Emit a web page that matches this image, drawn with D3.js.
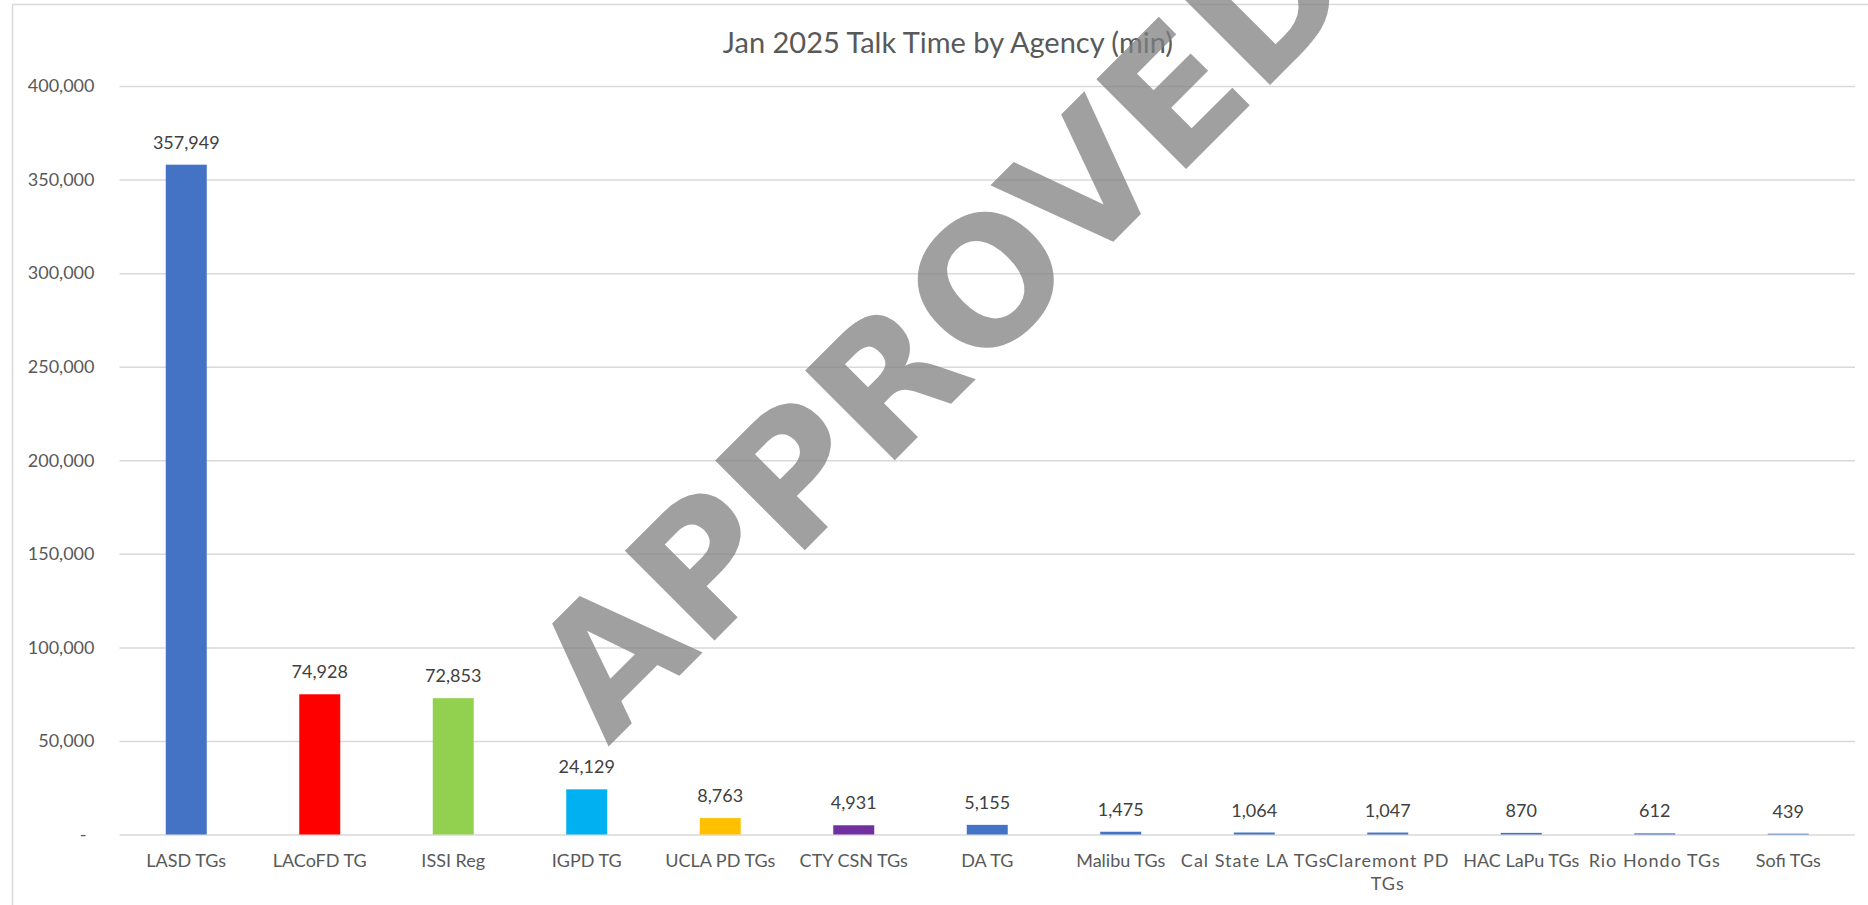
<!DOCTYPE html>
<html>
<head>
<meta charset="utf-8">
<script src="https://cdn.jsdelivr.net/npm/d3@7"></script>
<style>
  body { margin: 0; background: #fff; }
  svg { display: block; }
</style>
</head>
<body>
<div id="chart"></div>
<script>
(function () {
    "use strict";

    // data
    var agencies = ["LASD TGs", "LACoFD TG", "ISSI Reg", "IGPD TG", "UCLA PD TGs", "CTY CSN TGs",
        "DA TG", "Malibu TGs", "Cal State LA TGs", "Claremont PD TGs", "HAC LaPu TGs",
        "Rio Hondo TGs", "Sofi TGs"];
    var talkMinutes = [357949, 74928, 72853, 24129, 8763, 4931, 5155, 1475, 1064, 1047, 870, 612, 439];
    var yTicks = [0, 50000, 100000, 150000, 200000, 250000, 300000, 350000, 400000];
    var title = "Jan 2025 Talk Time by Agency (min)";
    var stamp = "APPROVED";

    var w = 1868, h = 905;
    var left = 119.5, right = 1855, top = 86, bottom = 834.5;
    var font = "Lato, 'Liberation Sans', sans-serif";

    var barColors = ["#4472C4", "#FF0000", "#92D050", "#00B0F0", "#FFC000", "#7030A0",
        "#4472C4", "#4472C4", "#4472C4", "#4472C4", "#4472C4", "#4472C4", "#4472C4"];

    var svg = d3.select('#chart').append('svg').attr('width', w).attr('height', h);
    svg.append('rect').attr('width', w).attr('height', h).attr('fill', '#fff');

    // chart area border (left + top visible)
    svg.append('path')
        .attr('d', 'M12.5,' + h + 'V4.5H' + w)
        .attr('fill', 'none').attr('stroke', '#d9d9d9').attr('stroke-width', 1.5);

    var x = d3.scaleBand().domain(agencies).range([left, right])
        .paddingInner(0.693).paddingOuter(0.3465);
    var y = d3.scaleLinear().domain([0, 400000]).range([bottom, top]);

    // gridlines + y labels
    var yAxis = d3.axisLeft(y).tickValues(yTicks).tickSize(-(right - left)).tickPadding(25)
        .tickFormat(function (d) { return d === 0 ? "-" : d3.format(",")(d); });
    var gy = svg.append('g').attr('transform', 'translate(' + left + ',0)').call(yAxis);
    gy.select('.domain').remove();
    gy.selectAll('.tick line').attr('stroke', '#d9d9d9').attr('stroke-width', 1.5);
    gy.selectAll('.tick text').attr('fill', '#595959').style('font-family', font).style('font-size', '18px');
    gy.selectAll('.tick').filter(function (d) { return d === 0; }).select('text').attr('x', -33);

    // bars
    svg.selectAll('rect.bar').data(talkMinutes).enter().append('rect')
        .attr('class', 'bar')
        .attr('x', function (d, i) { return x(agencies[i]); })
        .attr('y', function (d) { return y(d); })
        .attr('width', x.bandwidth())
        .attr('height', function (d) { return bottom - y(d); })
        .attr('fill', function (d, i) { return barColors[i]; });

    // data labels
    svg.selectAll('text.val').data(talkMinutes).enter().append('text')
        .attr('class', 'val')
        .text(function (d) { return d3.format(",")(d); })
        .attr('x', function (d, i) { return x(agencies[i]) + x.bandwidth() / 2; })
        .attr('y', function (d) { return y(d) - 16; })
        .attr('text-anchor', 'middle')
        .attr('fill', '#404040')
        .style('font-family', font).style('font-size', '18px');

    // category labels, wrapped when too wide for the band
    // (excel spreads the letters of a few of them a little)
    var gx = svg.append('g');
    agencies.forEach(function (name, i) {
        var cx = x(name) + x.bandwidth() / 2;
        var spaced = (i === 8 || i === 9 || i === 11) ? '1px' : '0px';
        var t = gx.append('text').attr('text-anchor', 'middle').attr('fill', '#595959')
            .style('font-family', font).style('font-size', '18px')
            .attr('x', cx).attr('y', 867);
        t.text(name);
        if (t.node().getComputedTextLength() > 131) {
            var words = name.split(' ');
            var last = words.pop();
            t.text(words.join(' '));
            gx.append('text').attr('text-anchor', 'middle').attr('fill', '#595959')
                .style('font-family', font).style('font-size', '18px')
                .style('letter-spacing', spaced)
                .attr('x', cx).attr('y', 890).text(last);
        }
        t.style('letter-spacing', spaced);
    });

    // title
    svg.append('text').text(title)
        .attr('x', 948).attr('y', 53)
        .attr('text-anchor', 'middle').attr('fill', '#595959')
        .style('font-family', font).style('font-size', '29px');

    // watermark stamp
    svg.append('text').text(stamp)
        .attr('transform', 'translate(608,747) rotate(-45)')
        .attr('fill', '#808080').attr('fill-opacity', 0.75)
        .style('font-family', "'DejaVu Sans', sans-serif")
        .style('font-weight', 'bold').style('font-size', '174px');
}());
</script>
</body>
</html>
